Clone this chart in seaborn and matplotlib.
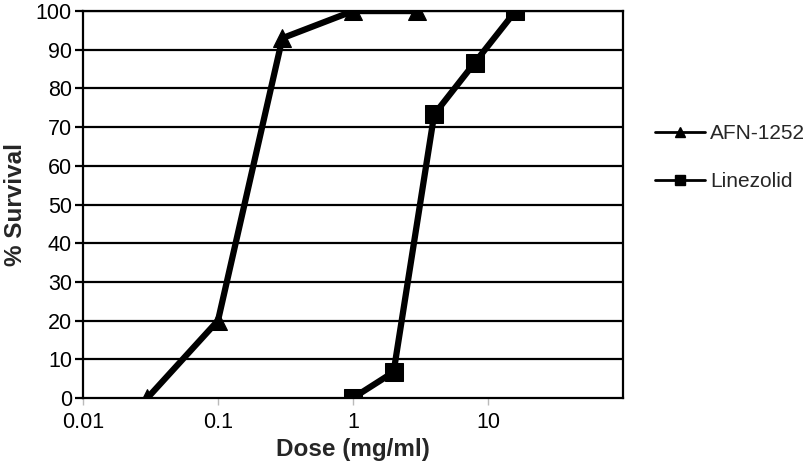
import pandas as pd
import seaborn as sns
import matplotlib.pyplot as plt
from matplotlib.lines import Line2D
from matplotlib.ticker import FixedLocator, FixedFormatter, NullLocator

# data
afn_dose = [0.03, 0.1, 0.3, 1, 3]
afn_survival = [0, 20, 93, 100, 100]
lin_dose = [1, 2, 4, 8, 16]
lin_survival = [0, 6.7, 73.3, 86.7, 100]
x_ticks = [0.01, 0.1, 1, 10]
x_ticklabels = ["0.01", "0.1", "1", "10"]

sns.set_theme(style="white")
plt.rcParams['font.family'] = ['Liberation Sans', 'DejaVu Sans']

afn = pd.DataFrame({"dose": afn_dose, "survival": afn_survival})
lin = pd.DataFrame({"dose": lin_dose, "survival": lin_survival})

fig = plt.figure(figsize=(8.1, 4.73), dpi=100)
ax = fig.add_axes([0.1025, 0.1586, 0.6665, 0.818])

sns.lineplot(data=afn, x="dose", y="survival", ax=ax, color="black",
             linewidth=4.5, marker="^", markersize=13, markeredgecolor="black")
sns.lineplot(data=lin, x="dose", y="survival", ax=ax, color="black",
             linewidth=4.5, marker="s", markersize=13, markeredgecolor="black")

ax.set_xscale("log")
ax.set_xlim(0.01, 100)
ax.set_ylim(0, 100)
ax.xaxis.set_major_locator(FixedLocator(x_ticks))
ax.xaxis.set_major_formatter(FixedFormatter(x_ticklabels))
ax.xaxis.set_minor_locator(NullLocator())
ax.set_yticks(range(0, 101, 10))

for y in range(10, 101, 10):
    ax.axhline(y, color="black", linewidth=1.6, zorder=0)

for s in ax.spines.values():
    s.set_color("black")
    s.set_linewidth(1.6)
    s.set_visible(True)

ax.tick_params(axis="y", left=True, length=6, width=1.6, color="black",
               labelsize=15.5, pad=2)
ax.tick_params(axis="x", bottom=True, length=5, width=1, color="#bbbbbb",
               labelsize=15.5, pad=5)
for lab in ax.get_xticklabels() + ax.get_yticklabels():
    lab.set_color("black")

ax.set_xlabel("Dose (mg/ml)", fontsize=17.5, fontweight="bold", labelpad=4)
ax.set_ylabel("% Survival", fontsize=17.5, fontweight="bold", labelpad=6)

handles = [
    Line2D([], [], color="black", lw=2, marker="^", markersize=7),
    Line2D([], [], color="black", lw=2, marker="s", markersize=7),
]
fig.legend(handles, ["AFN-1252", "Linezolid"], loc="upper left",
           bbox_to_anchor=(655 / 810, 1 - 124 / 473), frameon=False,
           fontsize=15, handlelength=2.4, handletextpad=0.25,
           labelspacing=1.4, borderpad=0, borderaxespad=0)

fig.savefig("out.png", dpi=100)
